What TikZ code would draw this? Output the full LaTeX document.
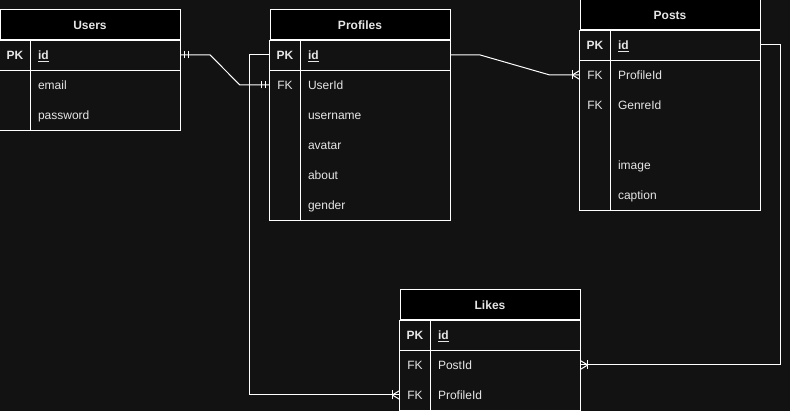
\documentclass[tikz,border=0pt]{standalone}
\usepackage{fontspec}
\setmainfont{Liberation Sans}
\usepackage{xcolor}
\usetikzlibrary{decorations.markings}

\definecolor{fond}{HTML}{121212}
\definecolor{texte}{HTML}{E6E6E6}

\begin{document}
\begin{tikzpicture}[x=1pt, y=-1pt,
  every node/.style={font=\fontsize{12}{14}\selectfont, text=texte, text height=10.5pt, text depth=1.5pt},
  gras/.style={font=\fontsize{12}{14}\selectfont\bfseries},
  entete/.style={draw=white, line width=1pt, fill=black, minimum width=180pt, minimum height=30pt, inner sep=0pt, gras},
  cle/.style={minimum width=30pt, minimum height=30pt, inner sep=0pt},
  champ/.style={minimum width=150pt, minimum height=30pt, text width=134pt, align=left, inner xsep=8pt, inner ysep=0pt},
  ligne/.style={white, line width=1pt},
  barres debut/.style={postaction={decorate, decoration={markings,
    mark=at position 4pt with {\draw[ligne] (0,-3.5pt) -- (0,3.5pt);},
    mark=at position 8pt with {\draw[ligne] (0,-3.5pt) -- (0,3.5pt);}}}},
  barres fin/.style={postaction={decorate, decoration={markings,
    mark=at position -8pt with {\draw[ligne] (0,-3.5pt) -- (0,3.5pt);},
    mark=at position -4pt with {\draw[ligne] (0,-3.5pt) -- (0,3.5pt);}}}},
  patte/.style={postaction={decorate, decoration={markings,
    mark=at position -7.5pt with {\draw[ligne] (0,-4.5pt) -- (0,4.5pt);
      \draw[ligne] (0,0) -- (7.5pt,4.5pt); \draw[ligne] (0,0) -- (7.5pt,-4.5pt);}}}}]

% Fond
\useasboundingbox (0,0) rectangle (790,411);
\fill[fond] (0,0) rectangle (790,411);

% Table Users
\node[entete] (users) at (90,25) {Users};
\node[cle, gras] (users-pk) at (15,55) {PK};
\node[champ, gras] (users-id) at (105,55) {\underline{id}};
\foreach \f [count=\i] in {email,password}
  \node[champ] (users-f\i) at (105,55+30*\i) {\f};
\draw[ligne] (users.south west) rectangle (users-f2.south east);
\draw[ligne] (users-pk.south west) -- (users-id.south east);
\draw[ligne] (users-pk.north east) -- (users-pk.east |- users-f2.south);

% Table Profiles
\node[entete] (profiles) at (360,25) {Profiles};
\node[cle, gras] (profiles-pk) at (285,55) {PK};
\node[champ, gras] (profiles-id) at (375,55) {\underline{id}};
\node[cle] (profiles-k1) at (285,85) {FK};
\foreach \f [count=\i] in {UserId,username,avatar,about,gender}
  \node[champ] (profiles-f\i) at (375,55+30*\i) {\f};
\draw[ligne] (profiles.south west) rectangle (profiles-f5.south east);
\draw[ligne] (profiles-pk.south west) -- (profiles-id.south east);
\draw[ligne] (profiles-pk.north east) -- (profiles-pk.east |- profiles-f5.south);

% Table Posts
\node[entete] (posts) at (670,15) {Posts};
\node[cle, gras] (posts-pk) at (595,45) {PK};
\node[champ, gras] (posts-id) at (685,45) {\underline{id}};
\node[cle] (posts-k1) at (595,75) {FK};
\node[cle] (posts-k2) at (595,105) {FK};
\foreach \f [count=\i] in {ProfileId,GenreId,{},image,caption}
  \node[champ] (posts-f\i) at (685,45+30*\i) {\f};
\draw[ligne] (posts.south west) rectangle (posts-f5.south east);
\draw[ligne] (posts-pk.south west) -- (posts-id.south east);
\draw[ligne] (posts-pk.north east) -- (posts-pk.east |- posts-f5.south);

% Table Likes
\node[entete] (likes) at (490,305) {Likes};
\node[cle, gras] (likes-pk) at (415,335) {PK};
\node[champ, gras] (likes-id) at (505,335) {\underline{id}};
\node[cle] (likes-k1) at (415,365) {FK};
\node[cle] (likes-k2) at (415,395) {FK};
\foreach \f [count=\i] in {PostId,ProfileId}
  \node[champ] (likes-f\i) at (505,335+30*\i) {\f};
\draw[ligne] (likes.south west) rectangle (likes-f2.south east);
\draw[ligne] (likes-pk.south west) -- (likes-id.south east);
\draw[ligne] (likes-pk.north east) -- (likes-pk.east |- likes-f2.south);

% Liens
\draw[ligne, barres debut, barres fin] (users-id.east) -- ++(30,0) -- ([xshift=-30pt]profiles-k1.west) -- (profiles-k1.west);
\draw[ligne, patte] (profiles-id.east) -- ++(30,0) -- ([xshift=-30pt]posts-k1.west) -- (posts-k1.west);
\draw[ligne, patte] (posts-id.east) -- ++(20,0) |- (likes-f1.east);
\draw[ligne, patte] (profiles-pk.west) -- ++(-20,0) |- (likes-k2.west);

\end{tikzpicture}
\end{document}
